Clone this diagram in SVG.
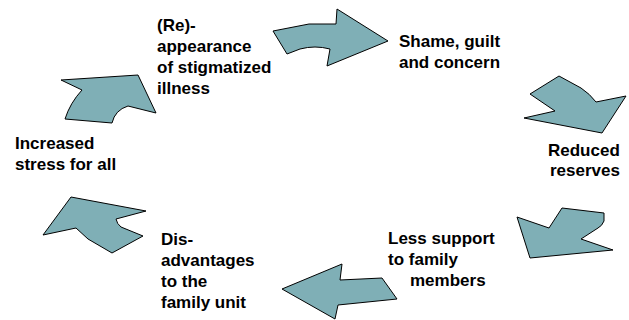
<svg xmlns="http://www.w3.org/2000/svg" width="629" height="320" viewBox="0 0 629 320">
<style>
.arr{fill:#7FAFB6;stroke:#000;stroke-width:1;stroke-linejoin:miter}
.t{font-family:"Liberation Sans",Arial,sans-serif;font-weight:bold;font-size:17px;fill:#000}
</style>
<rect width="629" height="320" fill="#fff"/>
<g id="connectors">
<path id="arrow1" class="arr" d="M61,80 L138,75 L156,113 L128,106 Q115,110 112,123 L65,119 Q70,103 82,90 Z"/>
<path id="arrow2" class="arr" d="M273,31 L309,24 L336,24 L337,9 L388,41 L327,66 L330,49 Q315,45 300,49 L287,54 Z"/>
<path id="arrow3" class="arr" d="M559,76 L581,88 Q590,94 596,102 L626,96 L602,133 L524,118 L555,111 L530,94 Z"/>
<path id="arrow4" class="arr" d="M517,217 L549,228 L562,208 L604,213 L604,221 Q602,226 598,228 L581,239 L613,250 L530,258 Z"/>
<path id="arrow5" class="arr" d="M282,289 L342,264 L340,280 L382,278 L397,299 L338,305 L335,319 Z"/>
<path id="arrow6" class="arr" d="M71,197 L146,211 L116,219 Q117,224 121,227 L143,236 L112,253 L88,239 L76,228 L43,235 Z"/>
</g>
<g id="node-reappearance">
<text class="t" x="157" y="31">(Re)-</text>
<text class="t" x="157" y="52">appearance</text>
<text class="t" x="157" y="73">of stigmatized</text>
<text class="t" x="157" y="94">illness</text>
</g>
<g id="node-shame">
<text class="t" x="399" y="47">Shame, guilt</text>
<text class="t" x="399" y="68">and concern</text>
</g>
<g id="node-reduced">
<text class="t" x="548" y="156">Reduced</text>
<text class="t" x="550" y="176">reserves</text>
</g>
<g id="node-less-support">
<text class="t" x="388" y="244">Less support</text>
<text class="t" x="388" y="265">to family</text>
<text class="t" x="410" y="286">members</text>
</g>
<g id="node-disadvantages">
<text class="t" x="161" y="245">Dis-</text>
<text class="t" x="161" y="266">advantages</text>
<text class="t" x="161" y="287">to the</text>
<text class="t" x="161" y="308">family unit</text>
</g>
<g id="node-stress">
<text class="t" x="15" y="149">Increased</text>
<text class="t" x="15" y="170">stress for all</text>
</g>
</svg>
